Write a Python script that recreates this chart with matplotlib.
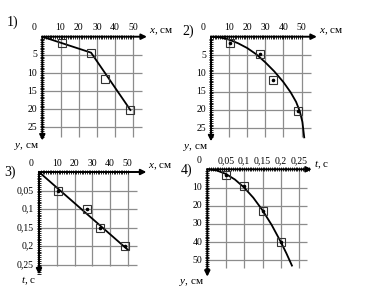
import matplotlib
matplotlib.use("Agg")
import matplotlib.pyplot as plt

plt.rcParams['font.family'] = ['Liberation Serif', 'DejaVu Serif']
plt.rcParams['mathtext.fontset'] = 'custom'
plt.rcParams['mathtext.it'] = 'Liberation Serif:italic'
plt.rcParams['mathtext.rm'] = 'Liberation Serif'

# measured points (same in all panels)
x_cm = [10.6, 26.8, 34.5, 48.2]
y_cm = [1.6, 4.6, 11.7, 20.2]
t_s = [0.05, 0.1, 0.15, 0.2]
y4_cm = [3.1, 9.1, 22.7, 39.7]

# panel 1: broken line
p1_line_x = [0, 26.8, 48.4]
p1_line_y = [0, 4.4, 20.2]

# panel 2: smooth curve
p2_curve_x = [0, 5, 10, 15, 20, 25, 30, 35, 40, 44, 47, 49, 50.5, 51.5]
p2_curve_y = [0, 0.2, 0.8, 1.8, 3.1, 4.8, 7.0, 9.5, 12.4, 15.2, 17.8, 20.3, 23.3, 27.5]

# panel 3: straight line
p3_line_x = [0, 50]
p3_line_t = [0, 0.21]

# panel 4: curve
p4_curve_t = [0, 0.025, 0.05, 0.075, 0.1, 0.125, 0.15, 0.175, 0.2, 0.215, 0.23]
p4_curve_y = [0, 0.6, 2.5, 5.6, 10, 15.6, 22.5, 30.6, 40, 46.2, 52.9]

# ticks
x_ticks = [10, 20, 30, 40, 50]
x_labels = ['10', '20', '30', '40', '50']
y_ticks = [5, 10, 15, 20, 25]
y_labels = ['5', '10', '15', '20', '25']
t_ticks = [0.05, 0.1, 0.15, 0.2, 0.25]
t_labels = ['0,05', '0,1', '0,15', '0,2', '0,25']
y4_ticks = [10, 20, 30, 40, 50]
y4_labels = ['10', '20', '30', '40', '50']

W, H = 365, 290
fig = plt.figure(figsize=(W / 100, H / 100), dpi=100)
FS = 7
GRID = '#8c8c8c'


def panel(rect, origin, sx, sy):
    l, t, w, h = rect
    ax = fig.add_axes([l / W, 1 - (t + h) / H, w / W, h / H])
    ox, oy = origin
    ax.set_xlim((l - ox) / sx, (l + w - ox) / sx)
    ax.set_ylim((t + h - oy) / sy, (t - oy) / sy)
    ax.axis('off')
    return ax


def frame(ax, xt, xl, yt, yl, x_grid_end, y_grid_end, x_arrow, y_arrow,
          x_minor, y_minor, xname, yname):
    ax.vlines(xt, 0, y_grid_end, color=GRID, lw=0.9, zorder=1)
    ax.hlines(yt, 0, x_grid_end, color=GRID, lw=0.9, zorder=1)
    ax.plot(x_minor, [0] * len(x_minor), ls='none', marker='|', ms=3.5,
            mew=0.6, color='k', zorder=3)
    ax.plot([0] * len(y_minor), y_minor, ls='none', marker='_', ms=3.5,
            mew=0.6, color='k', zorder=3)
    for end in [(x_arrow, 0), (0, y_arrow)]:
        ax.annotate('', xy=end, xytext=(0, 0),
                    arrowprops=dict(arrowstyle='-|>', color='k', lw=1.4,
                                    mutation_scale=8, shrinkA=0, shrinkB=0),
                    zorder=4)
    for v, s in zip(xt, xl):
        ax.annotate(s, (v, 0), xytext=(0, 9), textcoords='offset pixels',
                    ha='center', va='center', fontsize=FS)
    for v, s in zip(yt, yl):
        ax.annotate(s, (0, v), xytext=(-5, 0), textcoords='offset pixels',
                    ha='right', va='center', fontsize=FS)
    ax.annotate('0', (0, 0), xytext=(-8, 9), textcoords='offset pixels',
                ha='center', va='center', fontsize=FS)
    ax.annotate(xname, (x_arrow, 0), xytext=(2, 5), textcoords='offset pixels',
                ha='left', va='center', fontsize=8)
    ax.annotate(yname, (0, y_arrow), xytext=(-3, -6), textcoords='offset pixels',
                ha='right', va='center', fontsize=8)


def squares(ax, xs, ys, dots=True):
    ax.plot(xs, ys, ls='none', marker='s', ms=5.5, mfc='none', mec='#333333',
            mew=0.8, zorder=5)
    if dots:
        ax.plot(xs, ys, ls='none', marker='o', ms=1.6, color='k', zorder=6)


x_minor = [i for i in range(1, 51)]
y_minor = [i * 0.5 for i in range(1, 56)]
t_minor = [i * 0.005 for i in range(1, 56)]
y4_minor = [i for i in range(1, 56)]

# 1)
ax1 = panel((0, 0, 182, 145), (42.3, 36.7), 1.82, 3.63)
frame(ax1, x_ticks, x_labels, y_ticks, y_labels, 55, 27.5, 57.5, 28.6,
      x_minor, y_minor, '$x$, см', '$y$, см')
ax1.plot(p1_line_x, p1_line_y, color='k', lw=1.3, zorder=4)
squares(ax1, x_cm, y_cm, dots=False)

# 2)
ax2 = panel((182, 0, 183, 145), (211, 36.7), 1.81, 3.66)
frame(ax2, x_ticks, x_labels, y_ticks, y_labels, 55, 27.5, 58.5, 28.6,
      x_minor, y_minor, '$x$, см', '$y$, см')
ax2.plot(p2_curve_x, p2_curve_y, color='k', lw=1.3, zorder=4)
squares(ax2, x_cm, y_cm)

# 3)
ax3 = panel((0, 145, 182, 145), (39, 172), 1.775, 370)
frame(ax3, x_ticks, x_labels, t_ticks, t_labels, 55, 0.253, 60.5, 0.277,
      x_minor, t_minor, '$x$, см', '$t$, с')
ax3.plot(p3_line_x, p3_line_t, color='k', lw=1.3, zorder=4)
squares(ax3, x_cm, t_s)

# 4)
ax4 = panel((182, 145, 183, 145), (207.3, 169.3), 368, 1.82)
frame(ax4, t_ticks, t_labels, y4_ticks, y4_labels, 0.27, 54, 0.284, 59,
      t_minor, y4_minor, '$t$, с', '$y$, см')
ax4.plot(p4_curve_t, p4_curve_y, color='k', lw=1.3, zorder=4)
squares(ax4, t_s, y4_cm)

for s, px, py in [('1)', 7, 22), ('2)', 182, 31), ('3)', 4, 172), ('4)', 181, 170)]:
    fig.text(px / W, 1 - py / H, s, fontsize=10, ha='left', va='center')

fig.savefig('out.png', dpi=100)
